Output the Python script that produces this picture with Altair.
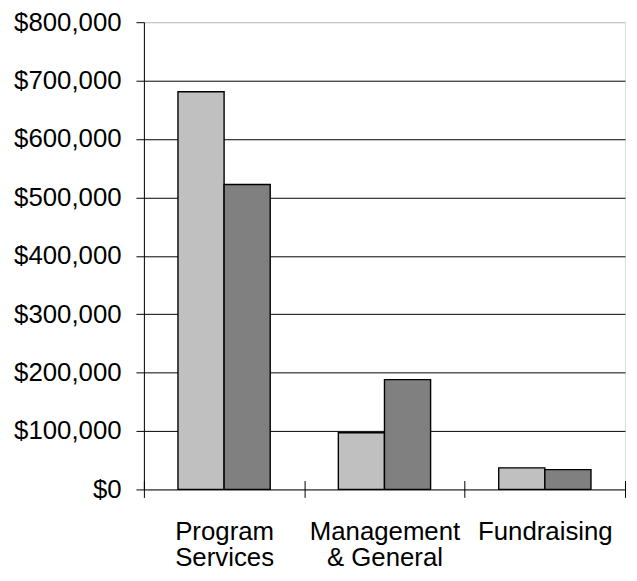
import altair as alt
import pandas as pd

categories = ["Program Services", "Management & General", "Fundraising"]
series_names = ["Prior Year", "Current Year"]
prior_values = [681000, 97000, 37000]
current_values = [522000, 188000, 34000]
series_colors = ["#C0C0C0", "#808080"]
y_ticks = [0, 100000, 200000, 300000, 400000, 500000, 600000, 700000, 800000]

rows = []
for c, a, b in zip(categories, prior_values, current_values):
    rows.append({"category": c, "series": series_names[0], "value": a})
    rows.append({"category": c, "series": series_names[1], "value": b})
df = pd.DataFrame(rows)

label_expr = ("datum.value == 'Program Services' ? ['Program', 'Services'] : "
              "datum.value == 'Management & General' ? ['Management', '& General'] : datum.value")

font = "Liberation Sans"

chart = alt.Chart(df).mark_bar(stroke="black", strokeWidth=1.4).encode(
    x=alt.X("category:N", sort=categories, title=None,
            scale=alt.Scale(paddingInner=0, paddingOuter=0),
            axis=alt.Axis(labelAngle=0, labelExpr=label_expr, labelFont=font,
                          labelFontSize=26, labelColor="black", labelLineHeight=27,
                          labelPadding=21, tickBand="extent", tickSize=17,
                          tickColor="black", tickWidth=1, domain=False,
                          offset=-9, grid=False, labelBaseline="top")),
    xOffset=alt.XOffset("series:N", sort=series_names,
                        scale=alt.Scale(paddingInner=0, paddingOuter=0.7385)),
    y=alt.Y("value:Q", title=None,
            scale=alt.Scale(domain=[0, 800000], nice=False),
            axis=alt.Axis(values=y_ticks, format="$,.0f", labelFont=font,
                          labelFontSize=26, labelColor="black", labelPadding=15,
                          tickSize=8, tickColor="black", domainColor="black",
                          grid=True,
                          gridColor={"condition": {"test": "datum.value >= 800000", "value": "#c0c0c0"},
                                     "value": "black"},
                          gridWidth=1)),
    color=alt.Color("series:N", sort=series_names,
                    scale=alt.Scale(domain=series_names, range=series_colors),
                    legend=None),
).properties(
    width=485, height=471,
    autosize=alt.AutoSizeParams(type="none"),
    padding={"left": 137, "top": 12, "right": 4, "bottom": 90},
).configure_view(stroke="#c0c0c0", strokeWidth=1).configure(background="white")

chart.save("out.html", embed_options={"renderer": "svg", "actions": False})
